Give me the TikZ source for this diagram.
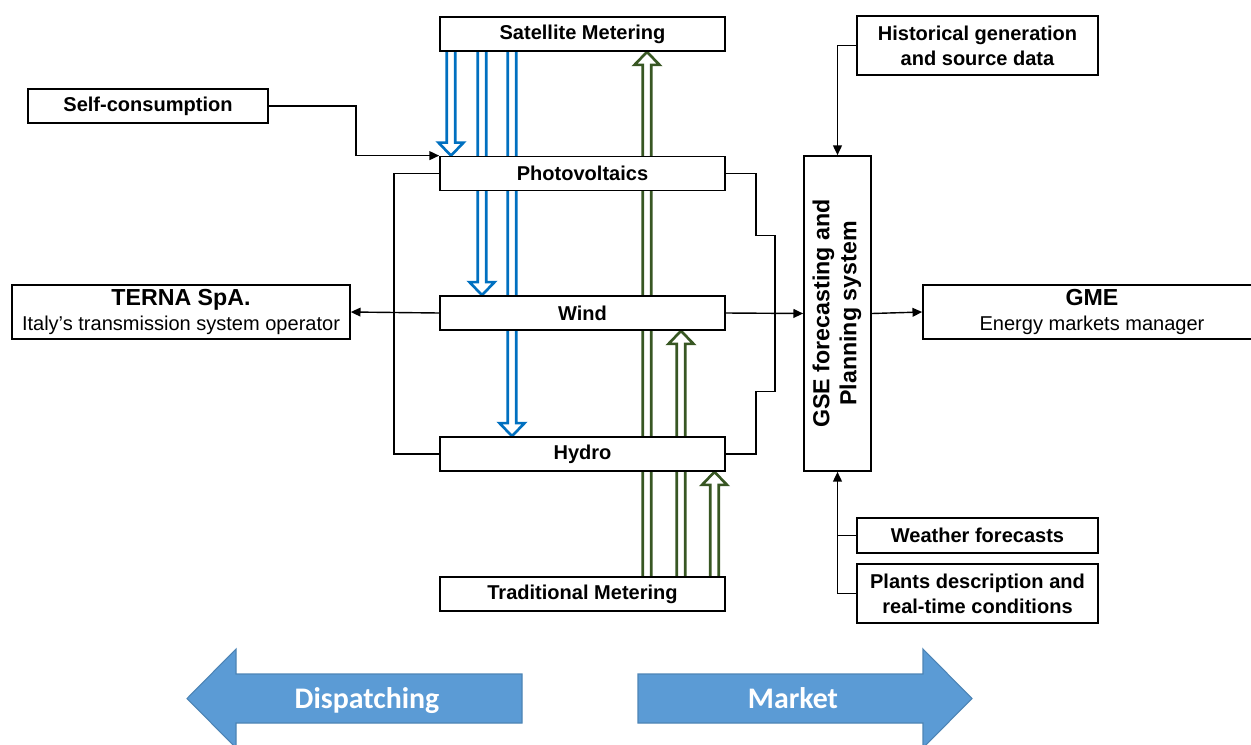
\documentclass[tikz,border=0pt]{standalone}
\usepackage{fontspec}
\setmainfont{Liberation Sans}
\newfontfamily\calibri{Carlito}
\usepackage{graphicx}
\usepackage{xcolor}
\definecolor{flowblue}{RGB}{0,112,192}
\definecolor{flowgreen}{RGB}{56,87,35}
\definecolor{marketblue}{RGB}{91,155,213}
\usepackage{tikz}
\usetikzlibrary{arrows.meta,calc,backgrounds}
\newcommand{\boxfont}{\fontsize{11.4}{14.2}\selectfont\bfseries}
\newcommand{\headfont}{\fontsize{13.2}{15.3}\selectfont\bfseries}
\newcommand{\subfont}{\fontsize{11.4}{14}\selectfont\mdseries}
\tikzset{
  box/.style={draw, line width=1pt, fill=white, inner sep=0pt, align=center, font=\boxfont},
  link/.style={line width=0.8pt, -{Triangle[length=5.5pt,width=5pt]}},
  bus/.style={line width=0.8pt},
  flow/.style={line width=1.5pt, fill=white, line join=miter},
  bigarrow/.style={fill=marketblue, draw=marketblue!85!black, line width=0.6pt},
  bigtext/.style={text=white, anchor=base, font=\calibri\bfseries\fontsize{17}{20}\selectfont}
}
% Hohlpfeil: #1 Farbe, #2 x, #3 Start, #4 Ziel, #5 Kopfversatz
\newcommand{\flowarrow}[5]{%
  \draw[flow, draw=#1] (#2-4.2,0 |- #3) -- ($(#2-4.2,0 |- #4)+(0,#5)$) -- ($(#2-12.5,0 |- #4)+(0,#5)$)
    -- (#2,0 |- #4) -- ($(#2+12.5,0 |- #4)+(0,#5)$) -- ($(#2+4.2,0 |- #4)+(0,#5)$) -- (#2+4.2,0 |- #3);}

\begin{document}
\begin{tikzpicture}[x=0.02cm, y=-0.02cm]
    \useasboundingbox (0,0) rectangle (1251,744);                                            % Rahmen
    \node[box, minimum width=5.7cm, minimum height=0.68cm] (sat) at (582.5,34) {Satellite Metering};    % Satellit
    \node[box, minimum width=5.7cm, minimum height=0.68cm] (pv) at (582.5,173.5) {Photovoltaics};      % PV
    \node[box, minimum width=5.7cm, minimum height=0.68cm] (wind) at (582.5,313) {Wind};              % Wind
    \node[box, minimum width=5.7cm, minimum height=0.68cm] (hydro) at (582.5,454) {Hydro};            % Wasser
    \node[box, minimum width=5.7cm, minimum height=0.68cm] (trad) at (582.5,594) {Traditional Metering}; % Zaehler
    \node[box, minimum width=4.8cm, minimum height=0.68cm] (selfc) at (148,106) {Self-consumption};   % Eigenverbrauch
    \node[box, minimum width=6.76cm, minimum height=1.08cm] (terna) at (181,312)
        {{\headfont TERNA SpA.}\\{\subfont Italy’s transmission system operator}};                 % TERNA
    \node[box, minimum width=6.76cm, minimum height=1.08cm] (gme) at (1092,312)
        {{\headfont GME}\\{\subfont Energy markets manager}};                                       % GME
    \node[box, minimum width=1.34cm, minimum height=6.3cm] (gse) at (837.5,313.5)
        {\rotatebox{90}{\headfont\begin{tabular}{@{}c@{}}GSE forecasting and\\Planning system\end{tabular}}}; % GSE
    \node[box, minimum width=4.82cm, minimum height=1.18cm] (hist) at (977.5,45.5)
        {Historical generation\\and source data};                                                   % Historie
    \node[box, minimum width=4.82cm, minimum height=0.7cm] (weather) at (977.5,535.5) {Weather forecasts}; % Wetter
    \node[box, minimum width=4.82cm, minimum height=1.18cm] (plants) at (977.5,593.5)
        {Plants description and\\real-time conditions};                                             % Anlagen
    \begin{scope}[on background layer]
        \flowarrow{flowblue}{451}{sat.south}{pv.north}{-13}                                         % Sat -> PV
        \flowarrow{flowblue}{482}{sat.south}{wind.north}{-13}                                       % Sat -> Wind
        \flowarrow{flowblue}{512}{sat.south}{hydro.north}{-13}                                      % Sat -> Hydro
        \flowarrow{flowgreen}{647}{trad.north}{sat.south}{13}                                       % Trad -> Sat
        \flowarrow{flowgreen}{681}{trad.north}{wind.south}{13}                                      % Trad -> Wind
        \flowarrow{flowgreen}{714.5}{trad.north}{hydro.south}{13}                                   % Trad -> Hydro
    \end{scope}
    \draw[link] (selfc.east) -- ++(87,0) |- (pv.north west);                                       % Eigenverbrauch
    \draw[bus] (pv.west) -- ++(-45,0) |- (hydro.west);                                              % linke Sammelleitung
    \draw[link] (wind.west) -- (terna.east);                                                        % an TERNA
    \draw[bus] (pv.east) -- ++(30,0) -- ++(0,62) -- ++(19,0) -- ++(0,156) -- ++(-19,0) |- (hydro.east); % rechte Sammelleitung
    \draw[link] (wind.east) -- (gse.west);                                                          % an GSE
    \draw[link] (gse.east) -- (gme.west);                                                           % an GME
    \draw[link] (hist.west) -| (gse.north);                                                         % Historie
    \draw[link] (plants.west) -| (gse.south);                                                       % Anlagen
    \draw[bus] (weather.west) -- (weather.west -| gse.south);                                       % Wetter
    \draw[bigarrow] (522,674) -- (236,674) -- (236,649) -- (187,698.5) -- (236,748) -- (236,723) -- (522,723) -- cycle; % Pfeil links
    \draw[bigarrow] (638,674) -- (923,674) -- (923,649) -- (972,698.5) -- (923,748) -- (923,723) -- (638,723) -- cycle; % Pfeil rechts
    \node[bigtext] (disp) at (367,708) {Dispatching};                                              % Dispatching
    \node[bigtext] (market) at (793,708) {Market};                                                 % Market
\end{tikzpicture}
\end{document}
